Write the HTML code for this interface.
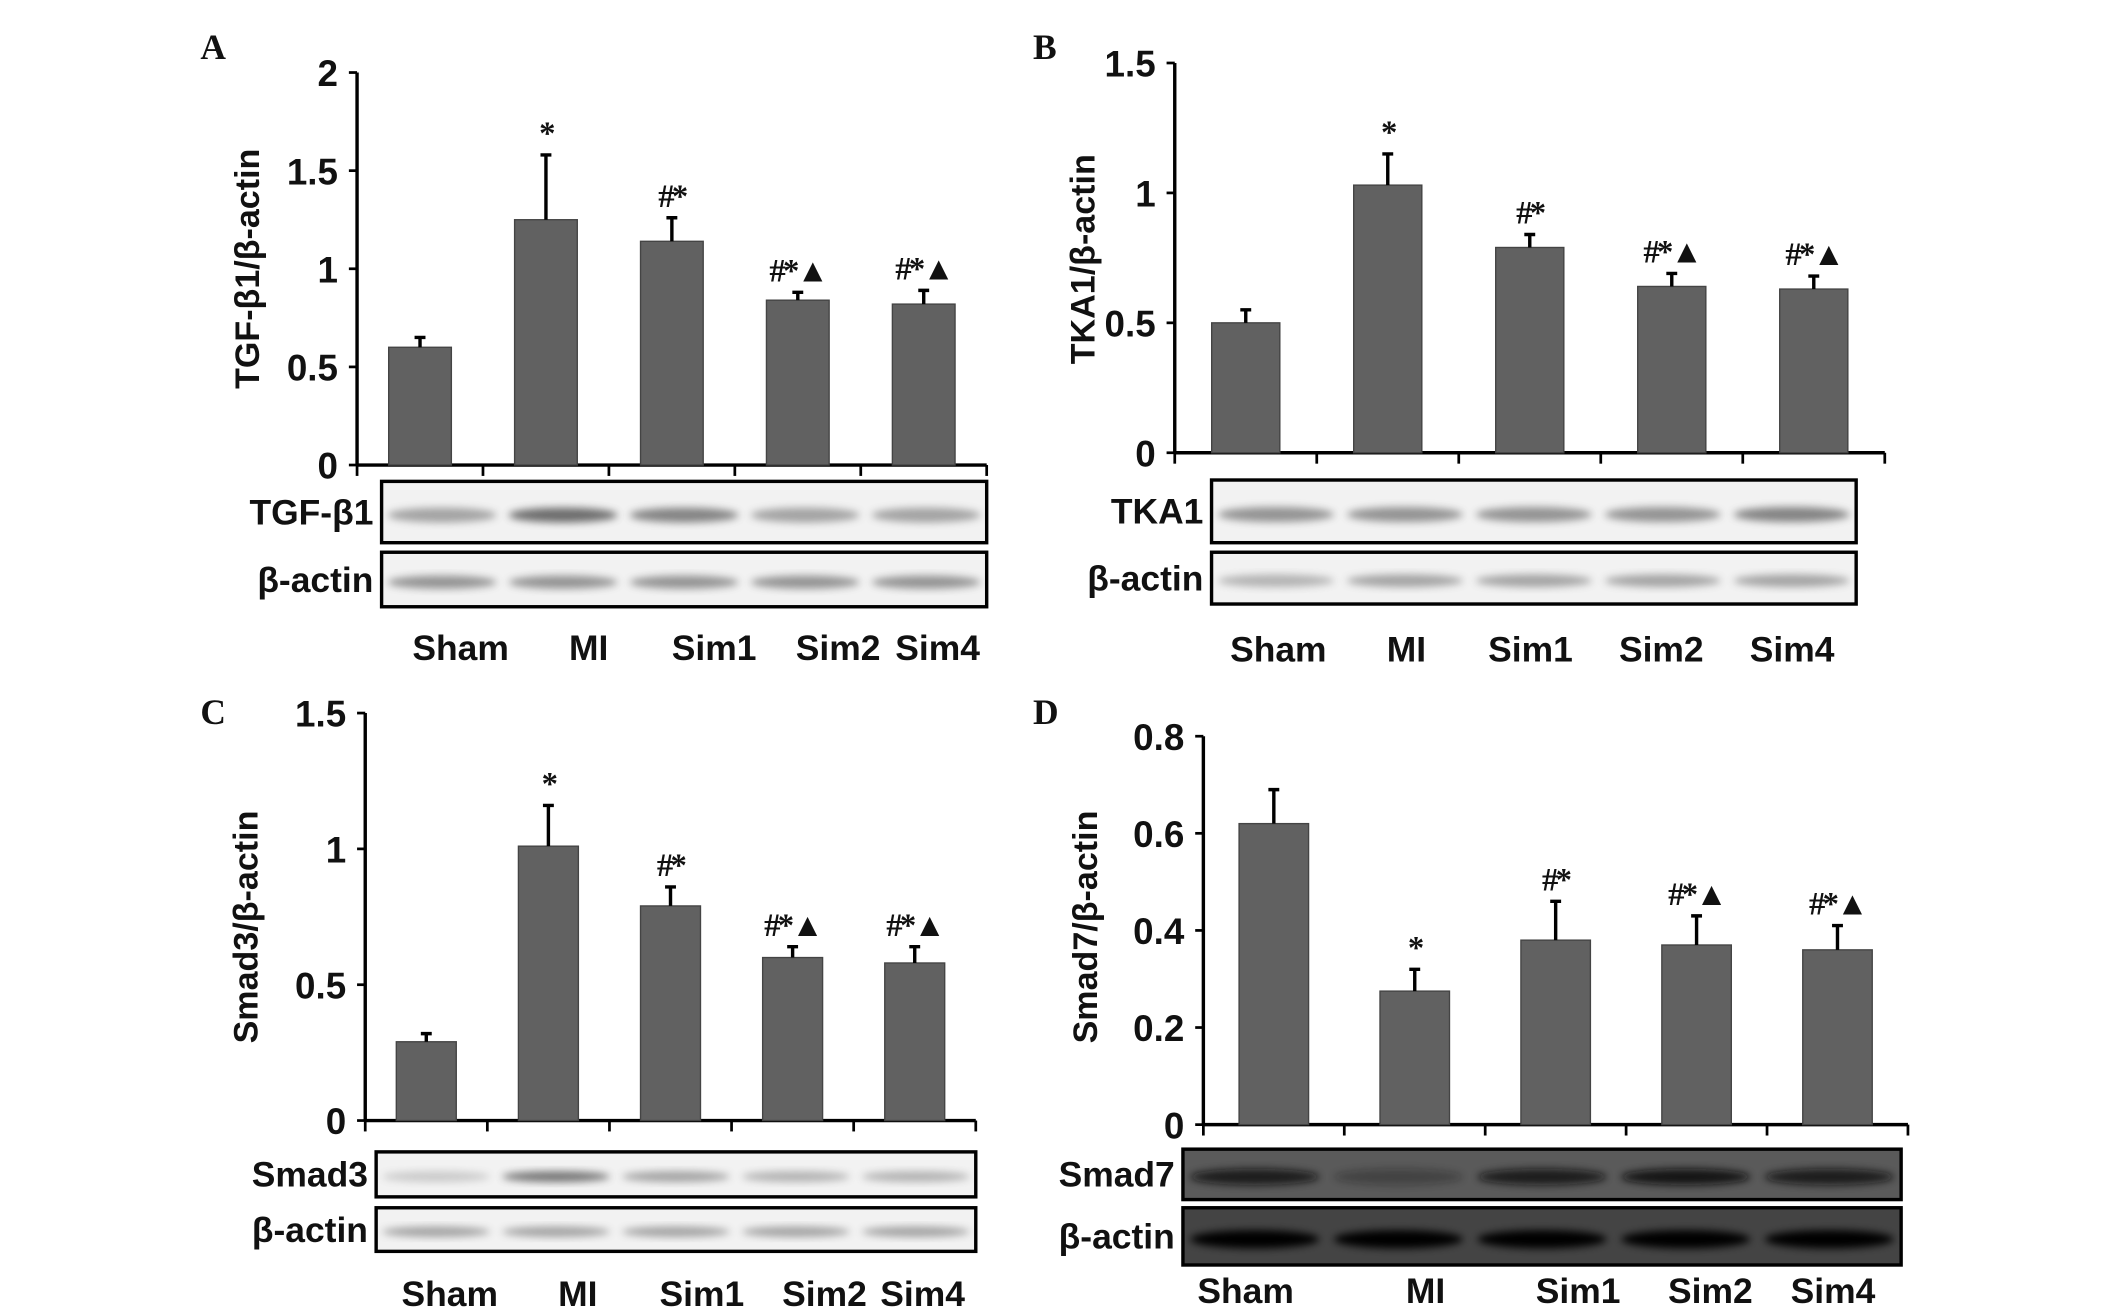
<!DOCTYPE html>
<html><head><meta charset="utf-8"><style>
html,body{margin:0;padding:0;background:#fff}
svg{display:block}
.tk{font-family:"Liberation Sans Narrow","Liberation Sans",sans-serif;font-weight:bold;font-size:27px;fill:#111}
.yl{font-family:"Liberation Sans",sans-serif;font-weight:bold;font-size:25px;fill:#111}
.xl{font-family:"Liberation Sans",sans-serif;font-weight:bold;font-size:26px;fill:#111}
.bl{font-family:"Liberation Sans Narrow","Liberation Sans",sans-serif;font-weight:bold;font-size:26px;fill:#111}
.mk{font-family:"Liberation Serif",serif;font-weight:bold;font-size:24px;fill:#111;letter-spacing:-2px}
.pl{font-family:"Liberation Serif",serif;font-weight:bold;font-size:26px;fill:#111}
</style></head><body>
<svg id="fig" width="2126" height="1313" viewBox="0 0 1560 963" xmlns="http://www.w3.org/2000/svg">
<defs><filter id="blur" x="-20%" y="-50%" width="140%" height="200%"><feGaussianBlur stdDeviation="3"/></filter></defs>
</svg>
<script>
const categories = ["Sham","MI","Sim1","Sim2","Sim4"];
const valuesA = [0.60,1.25,1.14,0.84,0.82];
const errorsA = [0.05,0.33,0.12,0.04,0.07];
const valuesB = [0.50,1.03,0.79,0.64,0.63];
const errorsB = [0.05,0.12,0.05,0.05,0.05];
const valuesC = [0.29,1.01,0.79,0.60,0.58];
const errorsC = [0.03,0.15,0.07,0.04,0.06];
const valuesD = [0.62,0.275,0.38,0.37,0.36];
const errorsD = [0.07,0.045,0.08,0.06,0.05];
const ticksA = [0,0.5,1,1.5,2];
const ticksB = [0,0.5,1,1.5];
const ticksC = [0,0.5,1,1.5];
const ticksD = [0,0.2,0.4,0.6,0.8];
const marksA = ["","*","#*","#*▲","#*▲"];
const marksB = ["","*","#*","#*▲","#*▲"];
const marksC = ["","*","#*","#*▲","#*▲"];
const marksD = ["","*","#*","#*▲","#*▲"];
const bandsA1 = [0.5,0.85,0.7,0.5,0.5], bandsA2 = [0.6,0.6,0.6,0.6,0.6];
const bandsB1 = [0.6,0.6,0.6,0.6,0.7], bandsB2 = [0.4,0.5,0.5,0.5,0.5];
const bandsC1 = [0.25,0.8,0.5,0.4,0.4], bandsC2 = [0.5,0.5,0.5,0.5,0.5];
const bandsD1 = [0.8,0.3,0.8,0.9,0.8], bandsD2 = [1,1,1,1,1];

const NS="http://www.w3.org/2000/svg";
const svg=document.getElementById('fig');
function mk(tag,attrs,parent,text){const e=document.createElementNS(NS,tag);for(const k in attrs)e.setAttribute(k,attrs[k]);if(text!==undefined)e.textContent=text;(parent||svg).appendChild(e);return e;}

function panel(p){
  const g=mk('g',{});
  
  
  const ymax=p.ticks[p.ticks.length-1];
  const y=v=>p.y0-(v/ymax)*(p.y0-p.yTop);
  const step=(p.x1-p.x0)/categories.length;
  const xc=i=>p.x0+step*(i+0.5);
  const bw=p.bw;
  const ya=mk('line',{x1:p.x0,y1:p.yTop,x2:p.x0,y2:p.y0,stroke:'#000','stroke-width':2.5},g);
  
  
  p.ticks.forEach(t=>{
    mk('line',{x1:p.x0-6,y1:y(t),x2:p.x0,y2:y(t),stroke:'#000','stroke-width':2},g);
    const tl=mk('text',{x:p.x0-14,y:y(t)+10,'text-anchor':'end',class:'tk'},g,String(t));
    
    
  });
  const xa=mk('line',{x1:p.x0,y1:p.y0,x2:p.x1,y2:p.y0,stroke:'#000','stroke-width':2.5},g);
  
  
  for(let i=0;i<=categories.length;i++){
    mk('line',{x1:p.x0+step*i,y1:p.y0,x2:p.x0+step*i,y2:p.y0+8,stroke:'#000','stroke-width':2},g);
  }
  p.values.forEach((v,i)=>{
    const b=mk('rect',{x:xc(i)-bw/2,y:y(v),width:bw,height:p.y0-y(v),fill:'#616161',stroke:'#444','stroke-width':1},g);
    
    
    const top=y(v+p.errors[i]);
    const eb=mk('path',{d:`M${xc(i)} ${y(v)}V${top}M${xc(i)-4} ${top}H${xc(i)+4}`,stroke:'#000','stroke-width':2.5,fill:'none'},g);
    
    
    if(p.marks[i]){
      const m=mk('text',{x:xc(i),y:top-8,'text-anchor':'middle',class:'mk'},g,p.marks[i]);
      
      
    }
  });
  const yt=mk('text',{x:0,y:0,'text-anchor':'middle',class:'yl',transform:`translate(${p.ytx},${p.yty}) rotate(-90)`},g,p.ytitle);
  
  
  const pl=mk('text',{x:p.lx,y:p.ly,class:'pl'},g,p.id.toUpperCase());
  
  
  p.blots.forEach(bl=>{
    const bx=p.bx0, bwid=p.bx1-p.bx0;
    const r=mk('rect',{x:bx,y:bl.y,width:bwid,height:bl.h,fill:bl.bg,stroke:'#000','stroke-width':2.5},g);
    
    
    const n=bl.bands.length, s=bwid/n;
    bl.bands.forEach((d,i)=>{
      mk('ellipse',{cx:bx+s*(i+0.5),cy:bl.y+bl.h*0.55,rx:s*0.45,ry:bl.h*(bl.dark?0.16:0.12),fill:bl.band,opacity:d,filter:'url(#blur)'},g);
    });
    const t=mk('text',{x:bx-6,y:bl.y+bl.h/2+9,'text-anchor':'end',class:'bl'},g,bl.name);
    
    
  });
  categories.forEach((c,i)=>{
    const t=mk('text',{x:p.xlx[i],y:p.xly,'text-anchor':'middle',class:'xl'},g,c);
    
    
  });
}

panel({id:'a',x0:262,x1:724,y0:341,yTop:53,bw:46,values:valuesA,errors:errorsA,ticks:ticksA,marks:marksA,
  ytitle:'TGF-β1/β-actin',ytx:190,yty:197,lx:147,ly:43,bx0:280,bx1:724,
  blots:[{name:'TGF-β1',y:353,h:45,bg:'#f2f2f2',band:'#555',bands:bandsA1},{name:'β-actin',y:405,h:40,bg:'#f2f2f2',band:'#555',bands:bandsA2}],
  xlx:[338,432,524,615,688],xly:484});
panel({id:'b',x0:862,x1:1383,y0:332,yTop:46,bw:50,values:valuesB,errors:errorsB,ticks:ticksB,marks:marksB,
  ytitle:'TKA1/β-actin',ytx:803,yty:190,lx:758,ly:43,bx0:889,bx1:1362,
  blots:[{name:'TKA1',y:352,h:46,bg:'#f2f2f2',band:'#555',bands:bandsB1},{name:'β-actin',y:405,h:38,bg:'#f2f2f2',band:'#555',bands:bandsB2}],
  xlx:[938,1032,1123,1219,1315],xly:485});
panel({id:'c',x0:268,x1:716,y0:822,yTop:523,bw:44,values:valuesC,errors:errorsC,ticks:ticksC,marks:marksC,
  ytitle:'Smad3/β-actin',ytx:189,yty:680,lx:147,ly:531,bx0:276,bx1:716,
  blots:[{name:'Smad3',y:845,h:33,bg:'#f2f2f2',band:'#555',bands:bandsC1},{name:'β-actin',y:886,h:32,bg:'#f2f2f2',band:'#555',bands:bandsC2}],
  xlx:[330,424,515,605,677],xly:958});
panel({id:'d',x0:883,x1:1400,y0:825,yTop:540,bw:51,values:valuesD,errors:errorsD,ticks:ticksD,marks:marksD,
  ytitle:'Smad7/β-actin',ytx:805,yty:680,lx:758,ly:531,bx0:868,bx1:1395,
  blots:[{name:'Smad7',y:843,h:37,bg:'#5a5a5a',band:'#111',dark:true,bands:bandsD1},{name:'β-actin',y:886,h:42,bg:'#444',band:'#000',dark:true,bands:bandsD2}],
  xlx:[914,1046,1158,1255,1345],xly:956});
</script>
</body></html>
